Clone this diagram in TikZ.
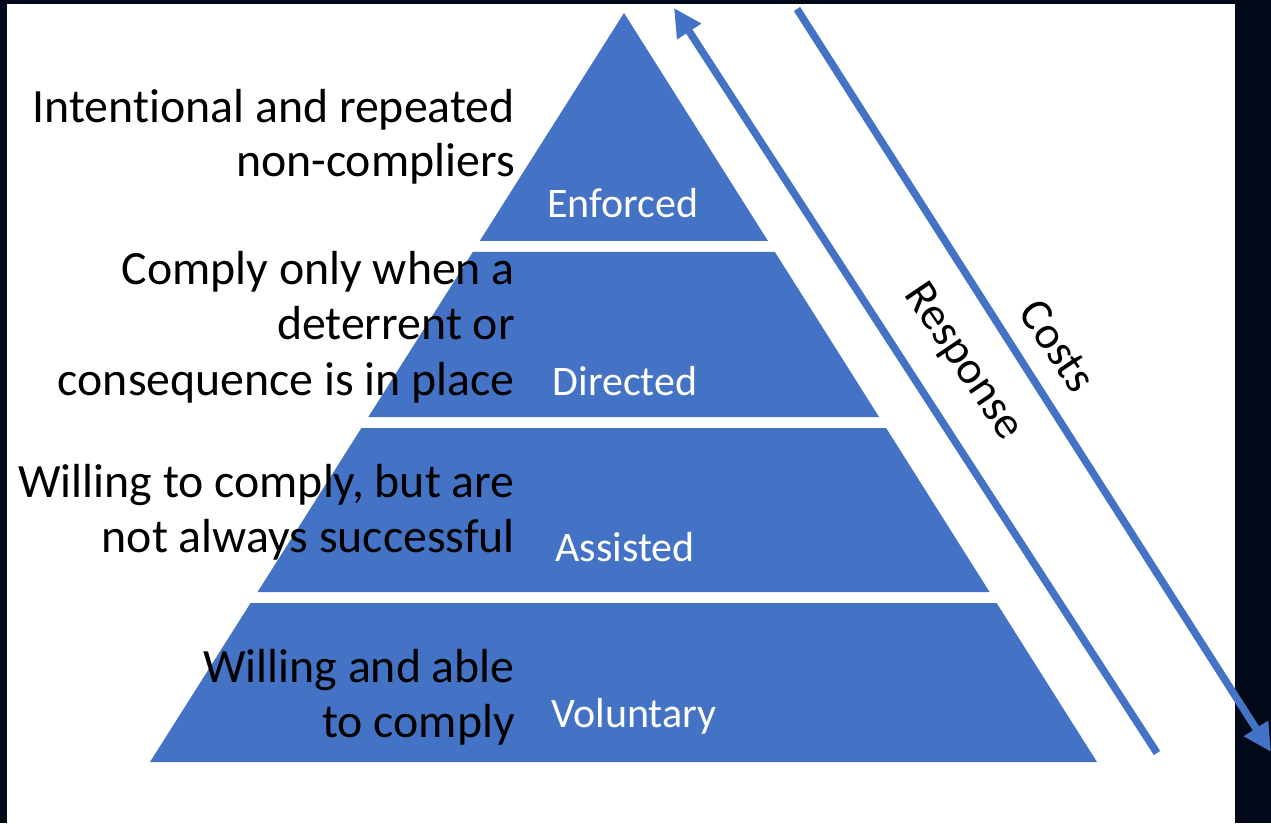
\documentclass[tikz,border=0pt]{standalone}
\usepackage{fontspec}
\setmainfont{Carlito}[RawFeature=-liga]
\usetikzlibrary{arrows.meta}
\definecolor{pblue}{RGB}{68,114,196}
\definecolor{navy}{RGB}{2,9,24}
\begin{document}
\begin{tikzpicture}[x=1pt,y=1pt,
  slice/.style={fill=pblue,draw=none},
  lefttext/.style={anchor=base east,inner sep=0pt,font=\fontsize{47.8}{55}\selectfont,text=black},
  innertext/.style={anchor=base,inner sep=0pt,font=\fontsize{42}{48}\selectfont,text=white},
  sidetext/.style={inner sep=0pt,font=\fontsize{46}{52}\selectfont,text=black,rotate=-56},
  bigarrow/.style={draw=pblue,line width=7.5pt,-{Triangle[length=28pt,width=27pt]}}]
\useasboundingbox (0,0) rectangle (1271,823);
\fill[navy] (0,0) rectangle (1271,823);
\fill[white] (7,0) rectangle (1235,819);
% pyramid slices
\fill[slice] (624,810) -- (768.0,582) -- (479.7,582) -- cycle;
\fill[slice] (472.75,571) -- (774.9,571) -- (879.1,406) -- (368.3,406) -- cycle;
\fill[slice] (361.4,395) -- (886.1,395) -- (989.6,231) -- (257.6,231) -- cycle;
\fill[slice] (250.6,220) -- (996.6,220) -- (1097,61) -- (150,61) -- cycle;
% inner labels
\node[innertext] (enf) at (623,605) {Enforced};
\node[innertext] (dir) at (625,428) {Directed};
\node[innertext] (ass) at (625,262) {Assisted};
\node[innertext] (vol) at (634,96) {Voluntary};
% left labels
\node[lefttext] (l1a) at (515,700) {Intentional and repeated};
\node[lefttext] (l1b) at (515,646) {non-compliers};
\node[lefttext] (l2a) at (515,538) {Comply only when a};
\node[lefttext] (l2b) at (515,483) {deterrent or};
\node[lefttext] (l2c) at (515,428) {consequence is in place};
\node[lefttext] (l3a) at (515,326) {Willing to comply, but are};
\node[lefttext] (l3b) at (515,271) {not always successful};
\node[lefttext] (l4a) at (515,141) {Willing and able};
\node[lefttext] (l4b) at (515,86) {to comply};
% arrows
\coordinate (rs) at (1157,70);
\coordinate (re) at (674,815);
\coordinate (cs) at (797,814);
\coordinate (ce) at (1271,71);
\draw[bigarrow] (rs) -- (re);
\draw[bigarrow] (cs) -- (ce);
\node[sidetext] (resp) at (963,461) {Response};
\node[sidetext] (cost) at (1058,477) {Costs};
\end{tikzpicture}
\end{document}
